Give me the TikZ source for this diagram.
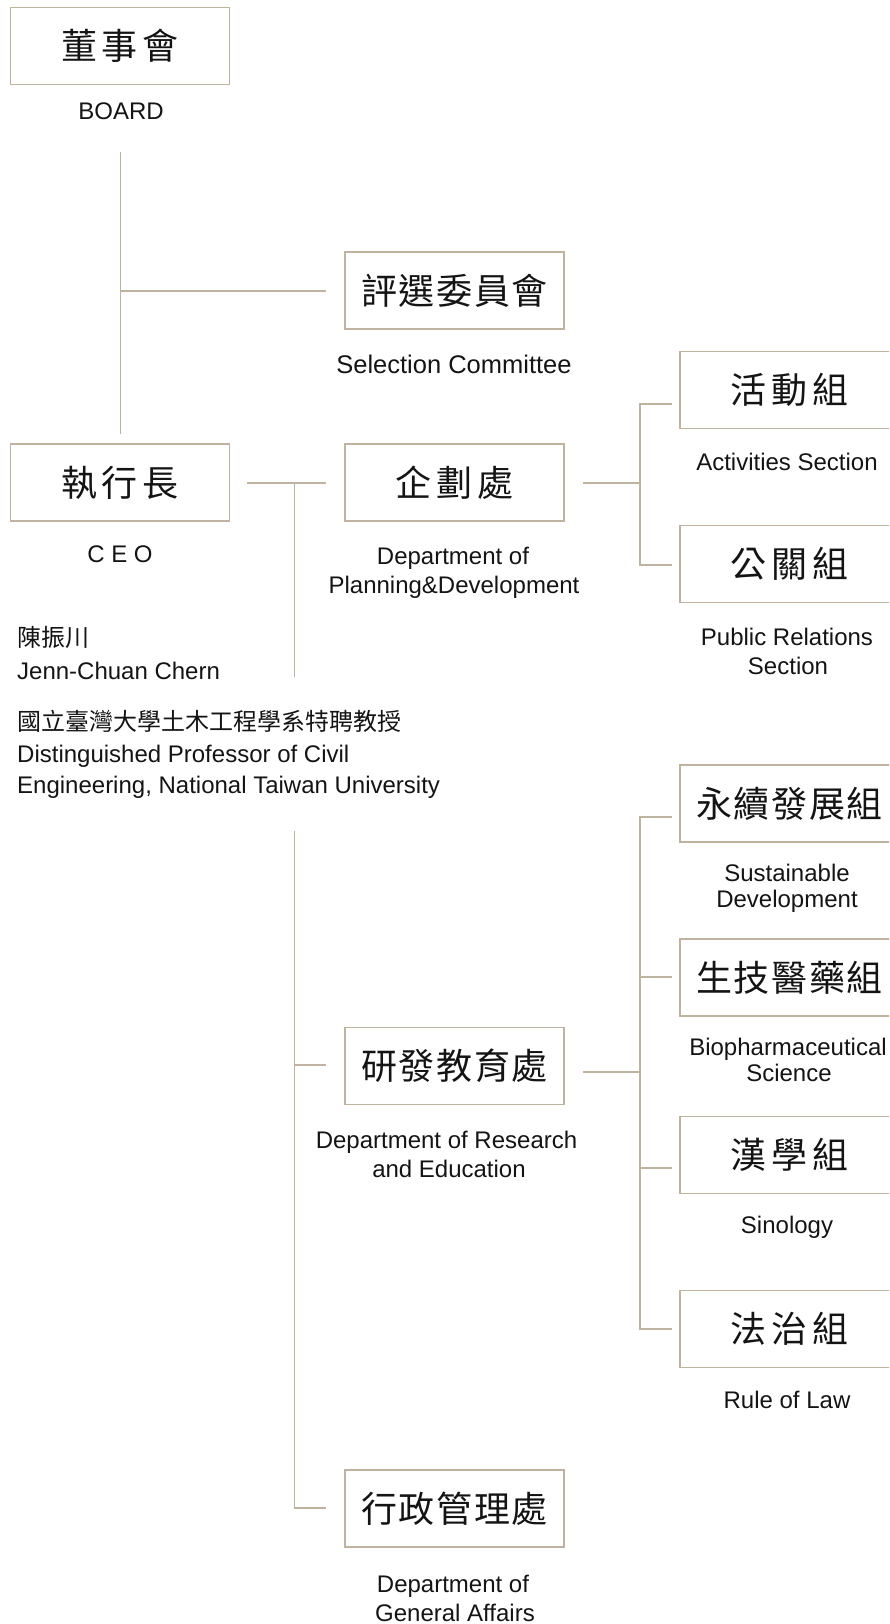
\documentclass[tikz,border=0pt]{standalone}
\usepackage{fontspec}
\setmainfont{Liberation Sans}
\newfontfamily\cjk{Noto Sans CJK TC}
\definecolor{linec}{RGB}{191,178,158}
\definecolor{inkc}{RGB}{20,20,20}
\begin{document}
\begin{tikzpicture}[x=1pt,y=-1pt,
  unitbox/.style={draw=linec, line width=1.5pt, minimum width=219pt, minimum height=77pt, inner sep=0pt, text=inkc, font=\cjk\fontsize{36}{40}\selectfont},
  lbl/.style={anchor=base, inner sep=0pt, text=inkc, font=\fontsize{24}{29}\selectfont},
  bio/.style={anchor=base west, inner sep=0pt, text=inkc, font=\fontsize{24}{29}\selectfont},
  conn/.style={draw=linec, line width=1.5pt},
]
\useasboundingbox (0,0) rectangle (889,1624);
\clip (0,0) rectangle (889,1624);

% ---- boxes ----
\node[unitbox] (board) at (120,46)    {董\hspace{5pt}事\hspace{5pt}會};
\node[unitbox] (sel)   at (454.5,290.5) {評\hspace{1.5pt}選\hspace{1.5pt}委\hspace{1.5pt}員\hspace{1.5pt}會};
\node[unitbox] (ceo)   at (120,482.5) {執\hspace{5pt}行\hspace{5pt}長};
\node[unitbox] (plan)  at (454.5,482.5) {企\hspace{5pt}劃\hspace{5pt}處};
\node[unitbox] (act)   at (789.5,390) {活\hspace{5pt}動\hspace{5pt}組};
\node[unitbox] (pr)    at (789.5,564) {公\hspace{5pt}關\hspace{5pt}組};
\node[unitbox] (sus)   at (789.5,803.5) {永\hspace{1.5pt}續\hspace{1.5pt}發\hspace{1.5pt}展\hspace{1.5pt}組};
\node[unitbox] (biob)  at (789.5,977.5) {生\hspace{1.5pt}技\hspace{1.5pt}醫\hspace{1.5pt}藥\hspace{1.5pt}組};
\node[unitbox] (rd)    at (454.5,1066) {研\hspace{1.5pt}發\hspace{1.5pt}教\hspace{1.5pt}育\hspace{1.5pt}處};
\node[unitbox] (sino)  at (789.5,1155) {漢\hspace{5pt}學\hspace{5pt}組};
\node[unitbox] (law)   at (789.5,1329) {法\hspace{5pt}治\hspace{5pt}組};
\node[unitbox] (ga)    at (454.5,1508.5) {行\hspace{1.5pt}政\hspace{1.5pt}管\hspace{1.5pt}理\hspace{1.5pt}處};

% ---- labels ----
\node[lbl] (boardl) at (121,120) {BOARD};
\node[lbl, font=\fontsize{25.5}{29}\selectfont] (sell) at (454,373) {Selection Committee};
\node[lbl] (ceol)   at (120,562) {C E O};
\node[lbl] (planl1) at (453,564) {Department of};
\node[lbl] (planl2) at (454,593) {Planning\&Development};
\node[lbl] (actl)   at (787,470) {Activities Section};
\node[lbl] (prl1)   at (787,645) {Public Relations};
\node[lbl] (prl2)   at (788,674) {Section};
\node[lbl] (susl1)  at (787,881) {Sustainable};
\node[lbl] (susl2)  at (787,907) {Development};
\node[lbl] (biol1)  at (788,1055) {Biopharmaceutical};
\node[lbl] (biol2)  at (789,1081) {Science};
\node[lbl] (rdl1)   at (446.5,1148) {Department of Research};
\node[lbl] (rdl2)   at (449,1177) {and Education};
\node[lbl] (sinol)  at (787,1233) {Sinology};
\node[lbl] (lawl)   at (787,1408) {Rule of Law};
\node[lbl] (gal1)   at (453,1592) {Department of};
\node[lbl] (gal2)   at (455,1621) {General Affairs};

% ---- CEO biography ----
\node[bio] (n1) at (17,646) {\cjk 陳振川};
\node[bio] (n2) at (17,679) {Jenn-Chuan Chern};
\node[bio] (n3) at (17,730) {\cjk 國立臺灣大學土木工程學系特聘教授};
\node[bio] (n4) at (17,762) {Distinguished Professor of Civil};
\node[bio] (n5) at (17,793) {Engineering, National Taiwan University};

% ---- connector points ----
\coordinate (bt)  at (120.5,152);
\coordinate (bb)  at (120.5,434);
\coordinate (bj)  at (120.5,291);
\coordinate (sj)  at (326,291);

\coordinate (c1)  at (247,483);
\coordinate (c2)  at (326,483);
\coordinate (cv1) at (294.5,483);
\coordinate (cv2) at (294.5,677);
\coordinate (cv3) at (294.5,831);
\coordinate (cv4) at (294.5,1508);
\coordinate (gaj) at (326,1508);
\coordinate (rdv) at (294.5,1065);
\coordinate (rdj) at (326,1065);

\coordinate (p1)  at (583,483);
\coordinate (p2)  at (640,483);
\coordinate (pv1) at (640,404);
\coordinate (pv2) at (640,565);
\coordinate (paj) at (672,404);
\coordinate (ppj) at (672,565);

\coordinate (r1)  at (583,1072);
\coordinate (r2)  at (640,1072);
\coordinate (rv1) at (640,817);
\coordinate (rv2) at (640,977);
\coordinate (rv3) at (640,1168);
\coordinate (rv4) at (640,1329);
\coordinate (suj) at (672,817);
\coordinate (bij) at (672,977);
\coordinate (sij) at (672,1168);
\coordinate (laj) at (672,1329);

% ---- connectors ----
\draw[conn] (bt) -- (bb);
\draw[conn] (bj) -- (sj);

\draw[conn] (c1) -- (c2);
\draw[conn] (cv1) -- (cv2);
\draw[conn] (cv3) -- (cv4) -- (gaj);
\draw[conn] (rdv) -- (rdj);

\draw[conn] (p1) -- (p2);
\draw[conn] (paj) -- (pv1) -- (pv2) -- (ppj);

\draw[conn] (r1) -- (r2);
\draw[conn] (suj) -- (rv1) -- (rv4) -- (laj);
\draw[conn] (rv2) -- (bij);
\draw[conn] (rv3) -- (sij);
\end{tikzpicture}
\end{document}
